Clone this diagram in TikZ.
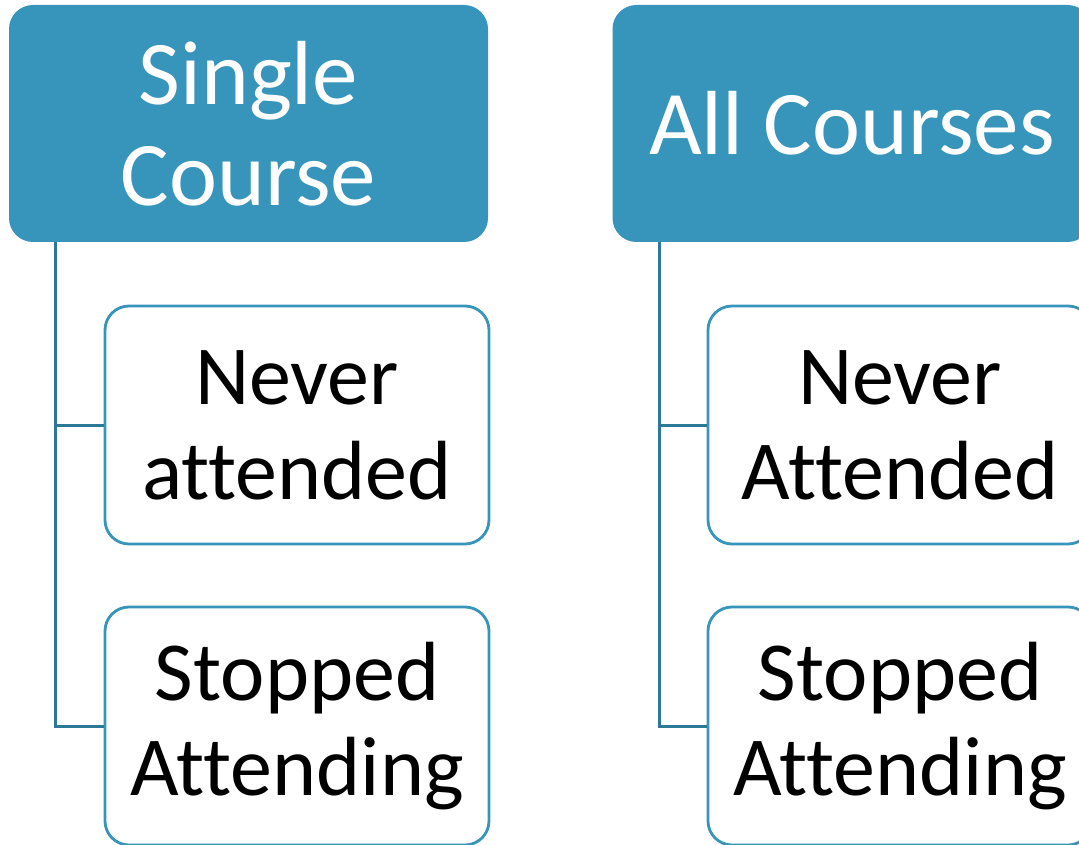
\documentclass[tikz,border=0pt]{standalone}
\usepackage{fontspec}
\setmainfont[Ligatures={NoCommon,NoRare}]{Carlito}
\definecolor{boxblue}{RGB}{55,149,188}
\definecolor{linkblue}{RGB}{44,120,152}
\begin{document}
\begin{tikzpicture}[x=1pt,y=-1pt,
  topbox/.style={draw=none,fill=boxblue,rounded corners=24pt,minimum width=479pt,minimum height=237pt,inner sep=0pt,align=center,text=white,font=\fontsize{91}{101}\selectfont},
  childbox/.style={draw=boxblue,line width=2.8pt,fill=white,rounded corners=24pt,minimum width=384pt,minimum height=238pt,inner sep=0pt,align=center,text=black,font=\fontsize{84}{95}\selectfont},
  link/.style={draw=linkblue,line width=3pt}]
\useasboundingbox (0,0) rectangle (1079,845);
\clip (0,0) rectangle (1079,845);
\node[topbox] (a) at (248.5,123.5) {Single\\Course};
\node[topbox] (b) at (852,123.5) {All Courses};
\node[childbox] (a1) at (297,425) {Never\\attended};
\node[childbox] (a2) at (297,726) {Stopped\\Attending};
\node[childbox] (b1) at (900,425) {Never\\Attended};
\node[childbox] (b2) at (900,726) {Stopped\\Attending};
\coordinate (ra) at ([xshift=47pt]a.south west);
\coordinate (rb) at ([xshift=47pt]b.south west);
\draw[link] (ra) |- (a1.west);
\draw[link] (ra) |- (a2.west);
\draw[link] (rb) |- (b1.west);
\draw[link] (rb) |- (b2.west);
\end{tikzpicture}
\end{document}
